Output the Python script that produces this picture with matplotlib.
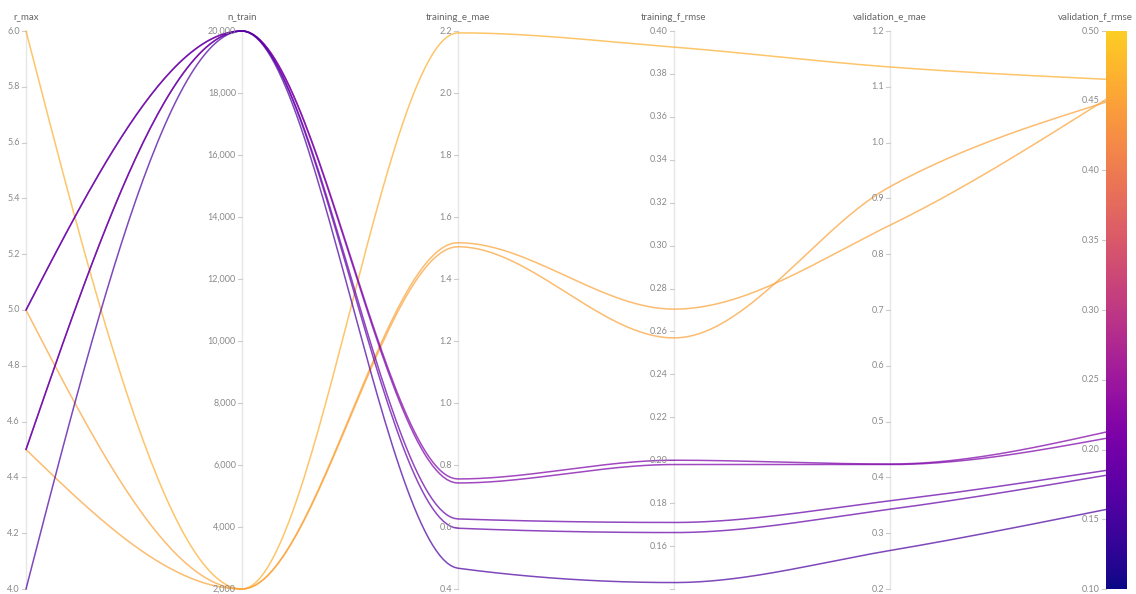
import numpy as np
import matplotlib.pyplot as plt
from matplotlib.colors import Normalize, ListedColormap

# one entry per run
r_max = [6.0, 5.0, 4.5, 5.0, 4.5, 4.5, 5.0, 4.0]
n_train = [2000, 2000, 2000, 20000, 20000, 20000, 20000, 20000]
training_e_mae = [2.194, 1.517, 1.504, 0.755, 0.742, 0.626, 0.596, 0.467]
training_f_rmse = [0.3925, 0.2704, 0.257, 0.200, 0.198, 0.171, 0.1663, 0.143]
validation_e_mae = [1.1355, 0.852, 0.921, 0.424, 0.423, 0.358, 0.343, 0.269]
validation_f_rmse = [0.4654, 0.451, 0.449, 0.2125, 0.208, 0.185, 0.1815, 0.157]

names = ["r_max", "n_train", "training_e_mae", "training_f_rmse",
         "validation_e_mae", "validation_f_rmse"]
columns = [r_max, n_train, training_e_mae, training_f_rmse,
           validation_e_mae, validation_f_rmse]
ranges = [(4.0, 6.0), (2000, 20000), (0.4, 2.2), (0.14, 0.40), (0.2, 1.2), (0.10, 0.50)]
ticks = [
    [4.0, 4.2, 4.4, 4.6, 4.8, 5.0, 5.2, 5.4, 5.6, 5.8, 6.0],
    list(range(2000, 20001, 2000)),
    [0.4, 0.6, 0.8, 1.0, 1.2, 1.4, 1.6, 1.8, 2.0, 2.2],
    [0.14, 0.16, 0.18, 0.20, 0.22, 0.24, 0.26, 0.28, 0.30, 0.32, 0.34, 0.36, 0.38, 0.40],
    [0.2, 0.3, 0.4, 0.5, 0.6, 0.7, 0.8, 0.9, 1.0, 1.1, 1.2],
    [0.10, 0.15, 0.20, 0.25, 0.30, 0.35, 0.40, 0.45, 0.50],
]
fmts = ["{:.1f}", "{:,.0f}", "{:.1f}", "{:.2f}", "{:.1f}", "{:.2f}"]
unlabeled = {3: [0.14]}


def monotone(xs, ys, n=60):
    # monotone cubic (Steffen) like d3.curveMonotoneX
    xs = np.asarray(xs, float)
    ys = np.asarray(ys, float)
    h = np.diff(xs)
    s = np.diff(ys) / h
    t = np.zeros(len(xs))
    for i in range(1, len(xs) - 1):
        p = (s[i - 1] * h[i] + s[i] * h[i - 1]) / (h[i - 1] + h[i])
        sg = (1 if s[i - 1] >= 0 else -1) + (1 if s[i] >= 0 else -1)
        t[i] = sg * min(abs(s[i - 1]), abs(s[i]), 0.5 * abs(p))
    t[0] = (3 * s[0] - t[1]) / 2
    t[-1] = (3 * s[-1] - t[-2]) / 2
    px, py = [], []
    for i in range(len(xs) - 1):
        u = np.linspace(0, 1, n)
        h00 = 2 * u**3 - 3 * u**2 + 1
        h10 = u**3 - 2 * u**2 + u
        h01 = -2 * u**3 + 3 * u**2
        h11 = u**3 - u**2
        px.extend(xs[i] + u * h[i])
        py.extend(h00 * ys[i] + h10 * h[i] * t[i] + h01 * ys[i + 1] + h11 * h[i] * t[i + 1])
    return np.array(px), np.array(py)


W, H = 1136, 594
fig = plt.figure(figsize=(W / 100, H / 100), dpi=100)
x0, x1, ytop, ybot = 26, 1106, 31, 589
ax = fig.add_axes([x0 / W, (H - ybot) / H, (x1 - x0) / W, (ybot - ytop) / H])
ax.set_axis_off()

unit = (x1 - x0) / 5.0  # pixels per axis step
# plasma without its pale yellow end
cmap = ListedColormap(plt.get_cmap("plasma")(np.linspace(0, 0.9, 256)))
norm = Normalize(0.10, 0.50)
font = ["Lato", "DejaVu Sans"]

# runs
xs = np.arange(6)
order = np.argsort(validation_f_rmse)[::-1]
for k in order:
    ys = [(col[k] - lo) / (hi - lo) for col, (lo, hi) in zip(columns, ranges)]
    px, py = monotone(xs, ys)
    ax.plot(px, py, color=cmap(norm(validation_f_rmse[k])), lw=1.1, alpha=0.72,
            clip_on=False, solid_capstyle="round", zorder=3)

# axes
tick_len = 4 / unit
for i, (name, (lo, hi)) in enumerate(zip(names, ranges)):
    if i < 5:
        ax.plot([i, i], [0, 1], color="#e6e6e6", lw=1, clip_on=False, zorder=1)
    for v in ticks[i]:
        y = (v - lo) / (hi - lo)
        ax.plot([i - tick_len, i], [y, y], color="#cccccc", lw=0.8, clip_on=False, zorder=1)
        if v in unlabeled.get(i, []):
            continue
        ax.text(i - 6 / unit, y, fmts[i].format(v), ha="right", va="center",
                fontsize=6.5, color="#8a8a8a", family=font)
    if i == 5:
        ax.text(i + 27 / unit, 1 + 14 / (ybot - ytop), name,
                ha="right", va="center", fontsize=7, color="#666666", family=font)
    else:
        ax.text(i, 1 + 14 / (ybot - ytop), name,
                ha="center", va="center", fontsize=7, color="#666666", family=font)

# color scale bar on the last axis
grad = np.linspace(0, 1, 256).reshape(-1, 1)
ax.imshow(grad, cmap=cmap, origin="lower", aspect="auto",
          extent=[5, 5 + 21 / unit, 0, 1], zorder=2, clip_on=False)

ax.set_xlim(0, 5)
ax.set_ylim(0, 1)

fig.savefig("out.png", dpi=100)
